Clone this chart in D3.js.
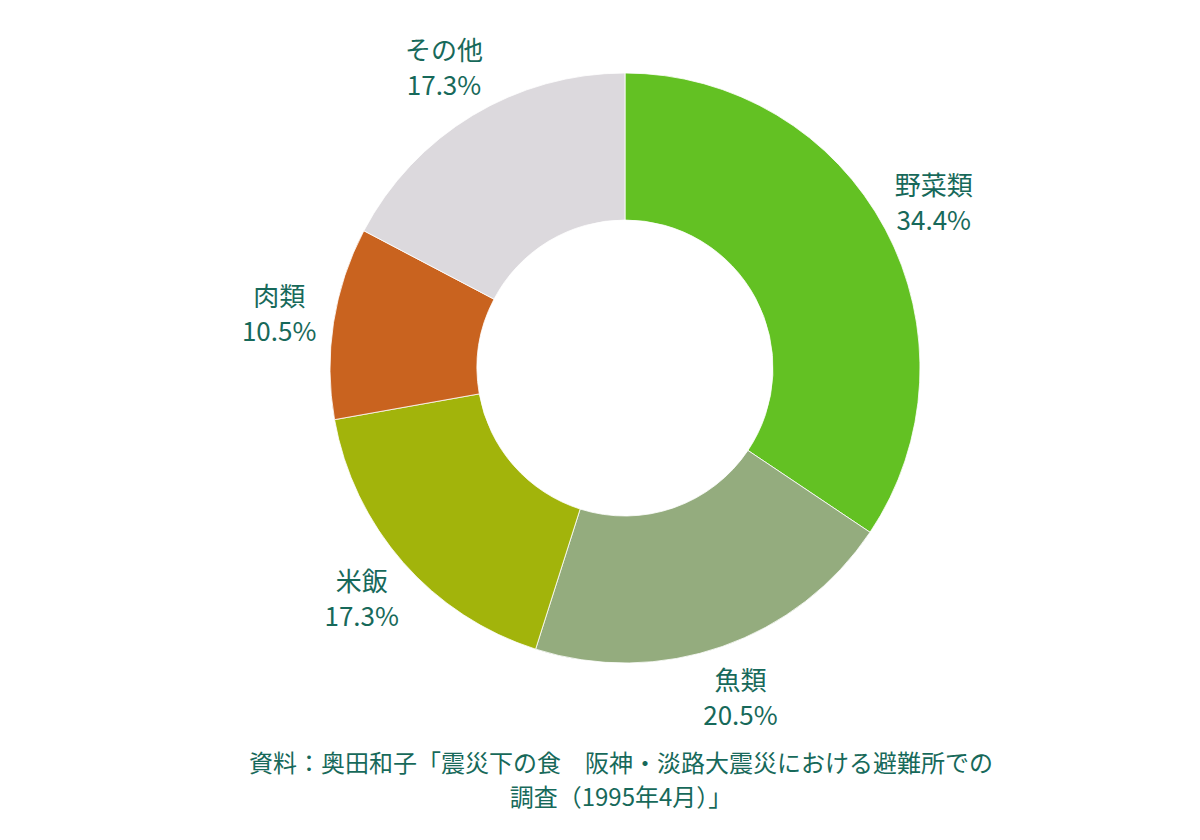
<!DOCTYPE html>
<html><head><meta charset="utf-8">
<script src="https://cdn.jsdelivr.net/npm/d3@7"></script>
<style>html,body{margin:0;padding:0;background:#fff;}svg{display:block;}</style>
</head><body>
<script>
const categories = ["野菜類", "魚類", "米飯", "肉類", "その他"];
const values = [34.4, 20.5, 17.3, 10.5, 17.3];
const colors = ["#63c123", "#94ac7e", "#a2b40b", "#c9631f", "#dcd9dd"];
const sourceLines = ["資料：奥田和子「震災下の食　阪神・淡路大震災における避難所での", "調査（1995年4月）」"];

const W = 1200, H = 840, cx = 625, cy = 368, R = 295, r0 = 148, rL = 350;
const textColor = "#17695a";
const font = "'Noto Sans CJK JP','Noto Sans',sans-serif";

const svg = d3.select("body").append("svg").attr("width", W).attr("height", H);
const g = svg.append("g").attr("transform", `translate(${cx},${cy})`);
const data = categories.map((c, i) => ({name: c, value: values[i], color: colors[i]}));
const pie = d3.pie().value(d => d.value).sort(null);
const arc = d3.arc().innerRadius(r0).outerRadius(R);
const arcs = pie(data);

g.selectAll("path").data(arcs).join("path")
  .attr("d", arc).attr("fill", d => d.data.color)
  .attr("stroke", "#fff").attr("stroke-width", 0.8);

const lab = d3.arc().innerRadius(rL).outerRadius(rL);
const lg = g.selectAll("g.lab").data(arcs).join("g").attr("class", "lab")
  .attr("transform", d => `translate(${lab.centroid(d)})`);
lg.append("text").attr("text-anchor", "middle").attr("y", -8)
  .attr("font-family", font).attr("font-size", 26).attr("fill", textColor)
  .text(d => d.data.name);
lg.append("text").attr("text-anchor", "middle").attr("y", 27)
  .attr("font-family", font).attr("font-size", 26).attr("fill", textColor)
  .text(d => d.data.value.toFixed(1) + "%");

svg.selectAll("text.src").data(sourceLines).join("text").attr("class", "src")
  .attr("x", 621).attr("y", (d, i) => 772 + i * 34)
  .attr("text-anchor", "middle").attr("font-family", font).attr("font-size", 24)
  .attr("fill", textColor).text(d => d);
</script>
</body></html>
